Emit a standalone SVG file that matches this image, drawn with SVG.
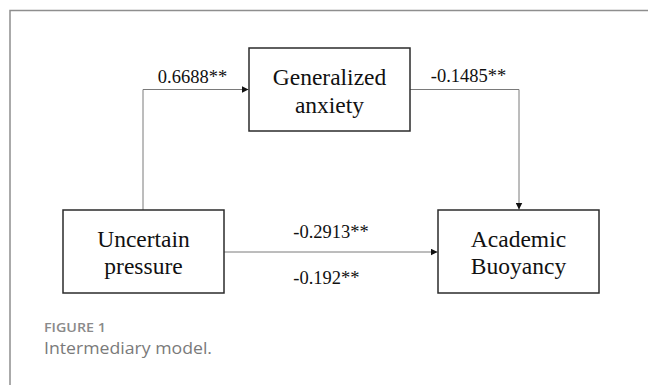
<svg xmlns="http://www.w3.org/2000/svg" width="648" height="385" viewBox="0 0 648 385">
  <style>
    .frame { fill: none; stroke: #8e8e8e; stroke-width: 1.5; }
    .box { fill: #ffffff; stroke: #2b2b2b; stroke-width: 1.5; }
    .conn { fill: none; stroke: #7a7a7a; stroke-width: 1; }
    .node-text { font-family: "Liberation Serif", "Times New Roman", serif; font-size: 23.5px; fill: #111; text-anchor: middle; }
    .label { font-family: "Liberation Serif", "Times New Roman", serif; font-size: 18.5px; fill: #111; }
    .cap-title { font-family: "Open Sans", "Liberation Sans", sans-serif; font-size: 13px; font-weight: 600; fill: #8a8a8a; }
    .cap-text { font-family: "Open Sans", "Liberation Sans", sans-serif; font-size: 17px; fill: #7a7a7a; }
  </style>
  <defs>
    <marker id="arrow" viewBox="0 0 10 10" refX="10" refY="5" markerWidth="7" markerHeight="7" markerUnits="userSpaceOnUse" orient="auto">
      <path d="M0,0 L10,5 L0,10 Z" fill="#111"/>
    </marker>
  </defs>
  <rect width="648" height="385" fill="#ffffff"/>
  <path class="frame" d="M10,385 V10.5 H648"/>

  <g id="connectors">
    <path class="conn" d="M143,210 V89.5 H248.5" marker-end="url(#arrow)"/>
    <path class="conn" d="M410,89.5 H519 V209.5" marker-end="url(#arrow)"/>
    <path class="conn" d="M224,252 H437.5" marker-end="url(#arrow)"/>
    <text class="label" x="192.5" y="83" text-anchor="middle">0.6688**</text>
    <text class="label" x="468.5" y="82" text-anchor="middle">-0.1485**</text>
    <text class="label" x="331" y="237.5" text-anchor="middle">-0.2913**</text>
    <text class="label" x="293.3" y="283.5">-0.192**</text>
  </g>

  <g id="node-generalized-anxiety">
    <rect class="box" x="249" y="48" width="161" height="83"/>
    <text class="node-text" x="329.5" y="85">Generalized</text>
    <text class="node-text" x="329.5" y="113">anxiety</text>
  </g>

  <g id="node-uncertain-pressure">
    <rect class="box" x="63" y="210" width="161" height="83"/>
    <text class="node-text" x="143.5" y="246.7">Uncertain</text>
    <text class="node-text" x="143.5" y="274">pressure</text>
  </g>

  <g id="node-academic-buoyancy">
    <rect class="box" x="438" y="210" width="161" height="83"/>
    <text class="node-text" x="518.5" y="246.7">Academic</text>
    <text class="node-text" x="518.5" y="274">Buoyancy</text>
  </g>

  <g id="caption">
    <text class="cap-title" x="44" y="332" textLength="62" lengthAdjust="spacingAndGlyphs">FIGURE 1</text>
    <text class="cap-text" x="44" y="353.5" textLength="168" lengthAdjust="spacingAndGlyphs">Intermediary model.</text>
  </g>
</svg>
